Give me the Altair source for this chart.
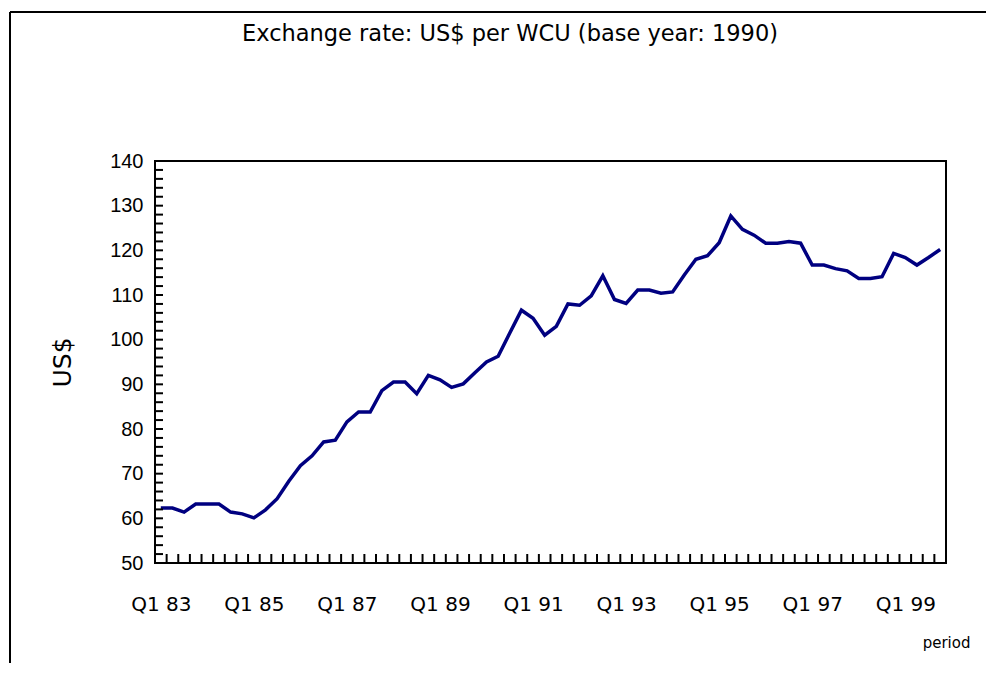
import altair as alt
import pandas as pd

# Quarterly exchange rate, Q1 1983 .. Q4 1999 (68 quarters)
years = list(range(83, 100))
quarters = ["Q1", "Q2", "Q3", "Q4"]
values = [
    62.3, 62.3, 61.4, 63.2, 63.2, 63.2, 61.4, 61.0,   # 83-84
    60.1, 61.9, 64.4, 68.3, 71.8, 74.0, 77.1, 77.5,   # 85-86
    81.6, 83.8, 83.8, 88.6, 90.5, 90.5, 87.9, 92.0,   # 87-88
    91.0, 89.3, 90.1, 92.6, 95.0, 96.3, 101.5, 106.6, # 89-90
    104.8, 101.0, 103.0, 108.0, 107.7, 109.8, 114.3, 109.0,  # 91-92
    108.1, 111.1, 111.1, 110.4, 110.7, 114.5, 118.0, 118.8,  # 93-94
    121.7, 127.7, 124.7, 123.4, 121.6, 121.6, 122.0, 121.6,  # 95-96
    116.7, 116.7, 115.9, 115.4, 113.7, 113.7, 114.1, 119.3,  # 97-98
    118.4, 116.7, 118.4, 120.2,                              # 99
]
period_labels = [f"{q} {y}" for y in years for q in quarters]
tick_label_values = list(range(0, 68, 8))
tick_label_text = [period_labels[i] for i in tick_label_values]
y_major = list(range(50, 141, 10))
y_minor = list(range(50, 141, 2))
x_bounds = [i - 0.5 for i in range(0, 69)]
title_text = "Exchange rate: US$ per WCU (base year: 1990)"

W, H = 791, 402
FONT = "DejaVu Sans"
NARROW = "Liberation Sans Narrow, Arial Narrow, Liberation Sans"

df = pd.DataFrame({"idx": list(range(len(values))), "period": period_labels, "rate": values})

xscale = alt.Scale(domain=[-0.5, 67.5], nice=False, zero=False)
yscale = alt.Scale(domain=[50, 140], nice=False, zero=False)

label_expr = "[" + ",".join(f"'{t}'" for t in tick_label_text) + "][round(datum.value/8)]"

line = alt.Chart(df).mark_line(color="#000080", strokeWidth=3.5, clip=True).encode(
    x=alt.X("idx:Q", scale=xscale,
            axis=alt.Axis(values=tick_label_values, labelExpr=label_expr, ticks=False,
                          grid=False, domain=False, labelFontSize=20, labelFont=FONT,
                          labelColor="black", labelPadding=31, labelBaseline="top",
                          title="period", titleFont=FONT, titleFontSize=15,
                          titleFontWeight="normal", titleColor="black",
                          titleAlign="right", titleAnchor="end", titleX=815, titleY=84,
                          titleBaseline="alphabetic")),
    y=alt.Y("rate:Q", scale=yscale,
            axis=alt.Axis(values=y_major, ticks=False, grid=False,
                          domain=False, labelFontSize=20, labelFont=NARROW, labelColor="black",
                          labelPadding=12, title="US$", titleFont=FONT, titleFontSize=25,
                          titleFontWeight="normal", titleColor="black", titleX=-93,
                          titleY=201, titleAngle=-90, titleAlign="center",
                          titleBaseline="middle")),
)

ytick_df = pd.DataFrame({"v": y_minor})
yticks = alt.Chart(ytick_df).mark_rule(color="black", strokeWidth=2).encode(
    y=alt.Y("v:Q", scale=yscale), x=alt.value(0), x2=alt.value(8)
)

xtick_df = pd.DataFrame({"b": x_bounds})
xticks = alt.Chart(xtick_df).mark_rule(color="black", strokeWidth=2).encode(
    x=alt.X("b:Q", scale=xscale), y=alt.value(H), y2=alt.value(H - 9)
)

one_df = pd.DataFrame({"k": [0]})
left_border = alt.Chart(one_df).mark_rule(color="black", strokeWidth=2).encode(
    x=alt.value(-145), y=alt.value(-149), y2=alt.value(H + 110)
)
top_border = alt.Chart(one_df).mark_rule(color="black", strokeWidth=2).encode(
    x=alt.value(-145), x2=alt.value(W + 60), y=alt.value(-149)
)
title = alt.Chart(one_df).mark_text(
    text=title_text, font=FONT, fontSize=22.5, color="black",
    align="center", baseline="middle"
).encode(x=alt.value(355), y=alt.value(-127))

chart = alt.layer(line, yticks, xticks, left_border, top_border, title).properties(
    width=W, height=H,
    autosize=alt.AutoSizeParams(type="none"),
    padding={"left": 147, "top": 153, "right": 40, "bottom": 100},
).configure(background="white").configure_view(stroke="black", strokeWidth=2)

chart.save("out.html", embed_options={"renderer": "svg", "actions": False})
